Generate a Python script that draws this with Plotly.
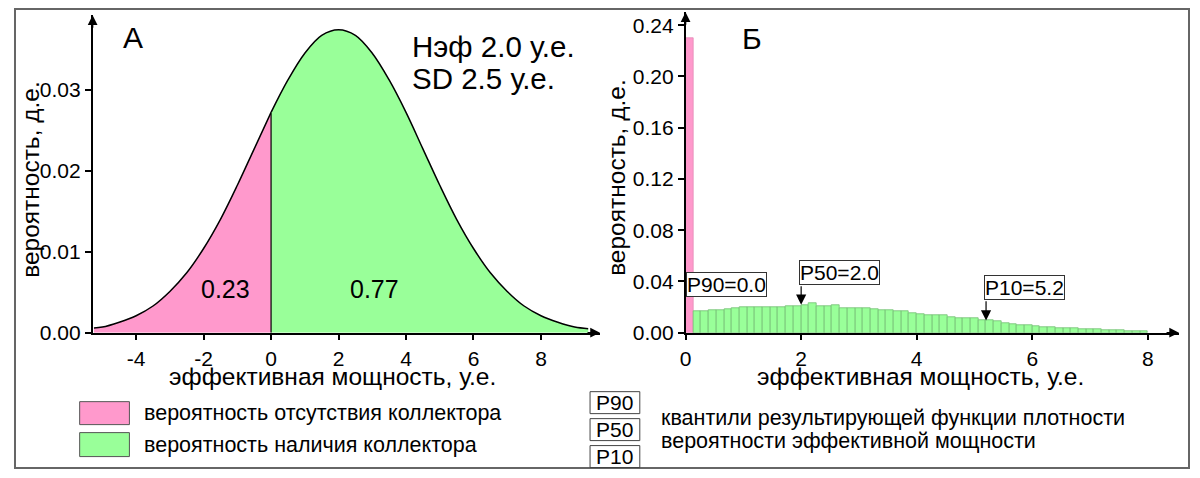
import plotly.graph_objects as go

# positions below are given in pixels of the 1200x478 reference picture.
# the page keeps its default 8px body margin, and the photo of the page comes
# back about 2% shorter than the page, so vertical positions are stretched back.
W, H = 1200, 478
OFF = 8
Y_STRETCH = 1.0225
FIG_W, FIG_H = 1182, 472

# --- panel A: density of effective thickness ---
curve_x = [-5.25, -5.0, -4.5, -4.0, -3.5, -3.0, -2.5, -2.0, -1.5, -1.0, -0.5, 0.0,
           0.5, 1.0, 1.5, 2.0, 2.5, 3.0, 3.5, 4.0, 4.5, 5.0, 5.5, 6.0, 6.5, 7.0,
           7.5, 8.0, 8.5, 9.0, 9.4]
curve_y = [0.0006, 0.0007, 0.0013, 0.0021, 0.0033, 0.0051, 0.0074, 0.0104, 0.0140,
           0.0182, 0.0227, 0.0272, 0.0312, 0.0345, 0.0367, 0.0374, 0.0367, 0.0345,
           0.0312, 0.0272, 0.0227, 0.0182, 0.0140, 0.0104, 0.0074, 0.0051, 0.0033,
           0.0021, 0.0013, 0.0007, 0.0005]
cutoff = 0.0
share_absent = 0.23
share_present = 0.77
h_mean = 2.0
h_sd = 2.5
a_xticks = [-4, -2, 0, 2, 4, 6, 8]
a_xticklabels = ['-4', '-2', '0', '2', '4', '6', '8']
a_yticks = [0.0, 0.01, 0.02, 0.03]

# --- panel Б: resulting histogram ---
bin_width = 8 / 60
absent_prob = 0.23
present_probs = [0.0166, 0.0172, 0.0174, 0.0179, 0.0185, 0.0192, 0.0198, 0.0200, 0.0200,
                 0.0200, 0.0203, 0.0203, 0.0205, 0.0205, 0.0218, 0.0229, 0.0211, 0.0211,
                 0.0216, 0.0195, 0.0190, 0.0190, 0.0195, 0.0185, 0.0174, 0.0174, 0.0172,
                 0.0166, 0.0153, 0.0148, 0.0135, 0.0140, 0.0135, 0.0122, 0.0112, 0.0112,
                 0.0112, 0.0096, 0.0096, 0.0088, 0.0078, 0.0068, 0.0062, 0.0057, 0.0052,
                 0.0047, 0.0042, 0.0039, 0.0039, 0.0034, 0.0029, 0.0026, 0.0026, 0.0023,
                 0.0023, 0.0021, 0.0016, 0.0013, 0.0010]
p_names = ['P90', 'P50', 'P10']
p_values = [0.0, 2.0, 5.2]
b_xticks = [0, 2, 4, 6, 8]
b_yticks = [0.0, 0.04, 0.08, 0.12, 0.16, 0.20, 0.24]

PINK = '#FF99CC'
GREEN = '#99FF99'
FONT = 'Liberation Sans, Arial, sans-serif'


def px(x):
    return (x - OFF) / FIG_W


def py(y):
    return 1 - (y * Y_STRETCH - OFF) / FIG_H


all_probs = [absent_prob] + present_probs
centers = [bin_width * (i + 0.5) for i in range(len(all_probs))]
i0 = curve_x.index(cutoff)

fig = go.Figure()

# density curve split at cutoff
fig.add_trace(go.Scatter(x=curve_x[:i0 + 1], y=curve_y[:i0 + 1], mode='lines', fill='tozeroy',
                         fillcolor=PINK, line=dict(color='black', width=1.5, shape='spline'),
                         xaxis='x', yaxis='y'))
fig.add_trace(go.Scatter(x=curve_x[i0:], y=curve_y[i0:], mode='lines', fill='tozeroy',
                         fillcolor=GREEN, line=dict(color='black', width=1.5, shape='spline'),
                         xaxis='x', yaxis='y'))
fig.add_trace(go.Scatter(x=[cutoff, cutoff], y=[0, curve_y[i0]], mode='lines',
                         line=dict(color='black', width=1.2), xaxis='x', yaxis='y'))

# histogram
fig.add_trace(go.Bar(x=centers[:1], y=all_probs[:1], width=bin_width,
                     marker=dict(color=PINK, line=dict(color='#E58AB8', width=0.8)),
                     xaxis='x2', yaxis='y2'))
fig.add_trace(go.Bar(x=centers[1:], y=present_probs, width=bin_width,
                     marker=dict(color=GREEN, line=dict(color='#74BF74', width=0.8)),
                     xaxis='x2', yaxis='y2'))

axis_style = dict(showline=True, linecolor='black', linewidth=1.5, ticks='outside', ticklen=6,
                  tickwidth=1.5, tickcolor='black', showgrid=False, zeroline=False,
                  tickfont=dict(size=21, color='black', family=FONT))

fig.update_layout(
    width=FIG_W, height=FIG_H, margin=dict(l=0, r=0, t=0, b=0), autosize=False,
    paper_bgcolor='white', plot_bgcolor='white', showlegend=False, bargap=0,
    font=dict(family=FONT, color='black'),
    xaxis=dict(domain=[px(87), px(597)], range=[-5.29, 9.75], tickvals=a_xticks,
               ticktext=a_xticklabels, anchor='y', **axis_style),
    yaxis=dict(domain=[py(333), py(15)], range=[0, 0.0392], tickvals=a_yticks,
               tickformat='.2f', anchor='x', **axis_style),
    xaxis2=dict(domain=[px(683), px(1179)], range=[0, 8.54], tickvals=b_xticks,
                anchor='y2', **axis_style),
    yaxis2=dict(domain=[py(333), py(12)], range=[0, 0.2502], tickvals=b_yticks,
                tickformat='.2f', anchor='x2', **axis_style),
)

ann = []


def text(x, y, s, size, xanchor='center', angle=0):
    ann.append(dict(x=px(x), y=py(y), xref='paper', yref='paper', text=s, showarrow=False,
                    xanchor=xanchor, yanchor='middle', textangle=angle,
                    font=dict(size=size, color='black', family=FONT)))


# axis arrows
for tx, ty, dx, dy in [(87, 15, 0, 14), (597, 333, -14, 0), (683, 12, 0, 14), (1179, 333, -14, 0)]:
    ann.append(dict(x=px(tx), y=py(ty), xref='paper', yref='paper', ax=dx, ay=dy, text='',
                    showarrow=True, arrowhead=2, arrowsize=1.3, arrowwidth=1.5, arrowcolor='black'))

text(128, 37, 'А', 30)
text(750, 38, 'Б', 30)
text(406, 46, f'Нэф {h_mean:.1f} у.е.', 29.5, xanchor='left')
text(406, 78, f'SD {h_sd:.1f} у.е.', 29.5, xanchor='left')
text(221, 289, f'{share_absent:.2f}', 25)
text(370, 289, f'{share_present:.2f}', 25)
text(328, 377, 'эффективная мощность, у.е.', 24.5)
text(919, 377, 'эффективная мощность, у.е.', 24.5)
text(25, 179, 'вероятность, д.е.', 24.5, angle=-90)
text(614, 177, 'вероятность, д.е.', 24.5, angle=-90)

# quantile labels on the histogram
label_y = {'P90': 0.0281, 'P50': 0.0374, 'P10': 0.0257}
label_dx = {'P90': 0.0, 'P50': -0.03, 'P10': -0.03}
for name, val in zip(p_names, p_values):
    ann.append(dict(x=val + label_dx[name], y=label_y[name], xref='x2', yref='y2',
                    text=f'{name}={val:.1f}', showarrow=False, xanchor='left', yanchor='bottom',
                    bordercolor='#333', borderwidth=1, borderpad=0, bgcolor='white',
                    font=dict(size=21, color='black', family=FONT)))
    if val > 0:
        k = min(int(val / bin_width), len(all_probs) - 1)
        ann.append(dict(x=val, y=all_probs[k], xref='x2', yref='y2', ax=val, ay=label_y[name],
                        axref='x2', ayref='y2', text='', showarrow=True, arrowhead=2,
                        arrowsize=1.7, arrowwidth=1.2, arrowcolor='black'))

# frame and legend
shapes = [
    dict(type='rect', xref='paper', yref='paper', x0=1 / FIG_W, x1=1 - 1 / FIG_W,
         y0=1 / FIG_H, y1=1 - 1 / FIG_H, line=dict(color='#666', width=2)),
    dict(type='rect', xref='paper', yref='paper', x0=px(74), x1=px(124), y0=py(425), y1=py(402),
         fillcolor=PINK, line=dict(color='#555', width=1)),
    dict(type='rect', xref='paper', yref='paper', x0=px(74), x1=px(124), y0=py(457), y1=py(433),
         fillcolor=GREEN, line=dict(color='#555', width=1)),
]
text(137, 413, 'вероятность отсутствия коллектора', 21.5, xanchor='left')
text(137, 445, 'вероятность наличия коллектора', 21.5, xanchor='left')

for j, name in enumerate(p_names):
    top = 392 + j * 27
    shapes.append(dict(type='rect', xref='paper', yref='paper', x0=px(587), x1=px(637),
                       y0=py(top + 22), y1=py(top), line=dict(color='#444', width=1)))
    text(612, top + 11, name, 21)
text(656, 418, 'квантили результирующей функции плотности', 21.5, xanchor='left')
text(656, 441, 'вероятности эффективной мощности', 21.5, xanchor='left')

fig.update_layout(annotations=ann, shapes=shapes)

fig.write_html("out.html", config={'displayModeBar': False})
